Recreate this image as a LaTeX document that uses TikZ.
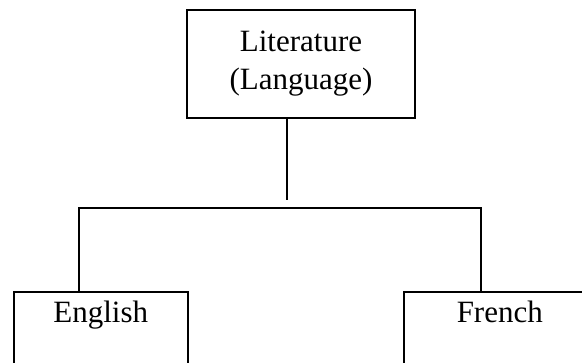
\documentclass[tikz,border=0pt]{standalone}
\usepackage{fontspec}
\setmainfont{Liberation Serif}
\begin{document}
\begin{tikzpicture}[x=1pt,y=-1pt, line width=1.6pt,
  box/.style={draw, inner sep=0pt, font=\fontsize{31}{38}\selectfont},
  leaf/.style={box, anchor=north west, text height=31pt, text depth=80pt}]
  \useasboundingbox (0,0) rectangle (582,363);
  \clip (0,0) rectangle (582,363);

  % root of the tree
  \node[box, align=center, minimum width=228pt, minimum height=108pt] (lit) at (301,64)
    {Literature\\(Language)};

  % branches
  \node[leaf, minimum width=174pt] (eng) at (13,291) {English};
  \node[leaf, minimum width=192pt] (fre) at (403,291) {French};

  % junction points of the connectors
  \coordinate (stem) at (287,200);
  \coordinate (barl) at (79,208);
  \coordinate (barr) at (481,208);

  \draw (lit.south -| stem) -- (stem);
  \draw (eng.north -| barl) -- (barl) -- (barr) -- (fre.north -| barr);
\end{tikzpicture}
\end{document}
